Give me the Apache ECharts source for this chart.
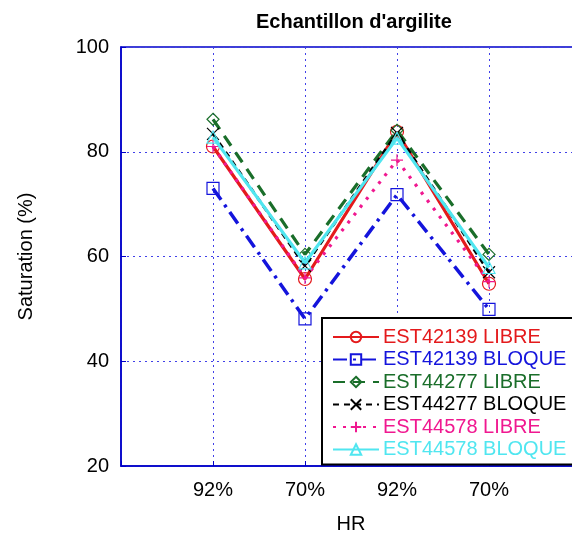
<!DOCTYPE html>
<html><head><meta charset="utf-8">
<script src="https://cdn.jsdelivr.net/npm/echarts@6/dist/echarts.min.js"></script>
<style>html,body{margin:0;padding:0;background:#fff}#c{width:572px;height:540px}</style>
</head><body><div id="c"></div>
<script>
const categories = ['92%', '70%', '92%', '70%'];
const seriesNames = ['EST42139 LIBRE','EST42139 BLOQUE','EST44277 LIBRE','EST44277 BLOQUE','EST44578 LIBRE','EST44578 BLOQUE'];
const est42139Libre  = [81, 55.7, 83.8, 54.8];
const est42139Bloque = [73, 48.1, 71.8, 49.9];
const est44277Libre  = [86.2, 60.4, 84.1, 60.4];
const est44277Bloque = [83.4, 58.2, 83.6, 57.0];
const est44578Libre  = [81, 55.9, 78.4, 55.2];
const est44578Bloque = [82.8, 58.8, 82.6, 57.9];
const yTicks = [20, 40, 60, 80, 100];

const values = [est42139Libre, est42139Bloque, est44277Libre, est44277Bloque, est44578Libre, est44578Bloque];
const colors = ['#e41a1c', '#1414dc', '#1a6e2a', '#000000', '#f01890', '#50e6f0'];
const symbols = ['circle', 'rect', 'diamond', 'path://M0,0L10,10M10,0L0,10', 'path://M5,0L5,10M0,5L10,5', 'triangle'];
const symbolSizes = [13, 12, 12, 12, 12, 12];
const lineTypes = ['solid', [14,6,3,6], [12,8], [6,5], [3,7], 'solid'];
const lineWidths = [3.2, 3.5, 3.2, 2.8, 3.2, 3.2];
const FONT = 'Liberation Sans, Arial, sans-serif';

const series = values.map((v, i) => ({
  name: seriesNames[i],
  type: 'line',
  data: v.map((y, k) => [k + 1, y]),
  color: colors[i],
  symbol: symbols[i],
  symbolSize: symbolSizes[i],
  showAllSymbol: true,
  lineStyle: { color: colors[i], width: lineWidths[i], type: lineTypes[i] },
  itemStyle: { color: 'transparent', borderColor: colors[i], borderWidth: 1.2 },
  emphasis: { disabled: true },
  z: 2 + i
}));

const chart = echarts.init(document.getElementById('c'), null, { renderer: 'canvas' });
chart.setOption({
  animation: false,
  backgroundColor: '#fff',
  title: {
    text: "Echantillon d'argilite",
    left: 251, top: 7,
    textStyle: { fontFamily: FONT, fontSize: 20, fontWeight: 'bold', color: '#000' }
  },
  grid: { left: 121, top: 47, width: 460, height: 419, outerBoundsMode: 'none', containLabel: false,
    show: true, borderColor: '#0000c8', borderWidth: 1.5, backgroundColor: 'transparent' },
  xAxis: {
    type: 'value', min: 0, max: 5, interval: 1,
    name: 'HR', nameLocation: 'middle', nameGap: 48,
    nameTextStyle: { fontFamily: FONT, fontSize: 20, color: '#000' },
    axisLine: { show: true, lineStyle: { color: '#0000c8', width: 1.5 } },
    axisTick: { show: true, inside: true, length: 5, lineStyle: { color: '#0000c8' } },
    axisLabel: { fontFamily: FONT, fontSize: 20, color: '#000', margin: 14, showMaxLabel: false,
      formatter: v => (v >= 1 && v <= categories.length && Number.isInteger(v)) ? categories[v - 1] : '' },
    splitLine: { show: true, lineStyle: { color: '#4040e8', type: [2, 4], width: 1 } }
  },
  yAxis: {
    type: 'value', min: 20, max: 100, interval: 20,
    name: 'Saturation (%)', nameLocation: 'middle', nameGap: 85,
    nameTextStyle: { fontFamily: FONT, fontSize: 20, color: '#000' },
    axisLine: { show: true, lineStyle: { color: '#0000c8', width: 1.5 } },
    axisTick: { show: true, inside: true, length: 5, lineStyle: { color: '#0000c8' } },
    axisLabel: { fontFamily: FONT, fontSize: 20, color: '#000', margin: 12,
      formatter: v => yTicks.includes(v) ? String(v) : '' },
    splitLine: { show: true, lineStyle: { color: '#4040e8', type: [2, 4], width: 1 } }
  },
  legend: {
    orient: 'vertical', left: 322, top: 318,
    backgroundColor: '#fff', borderColor: '#000', borderWidth: 2,
    padding: [9, 10, 5, 10],
    itemGap: 2.5, itemWidth: 46, itemHeight: 13,
    data: seriesNames.map((n, i) => ({ name: n, textStyle: { color: colors[i] } })),
    textStyle: { fontFamily: FONT, fontSize: 20, padding: [0, 0, 0, -1] }
  },
  series: series
});
</script></body></html>
